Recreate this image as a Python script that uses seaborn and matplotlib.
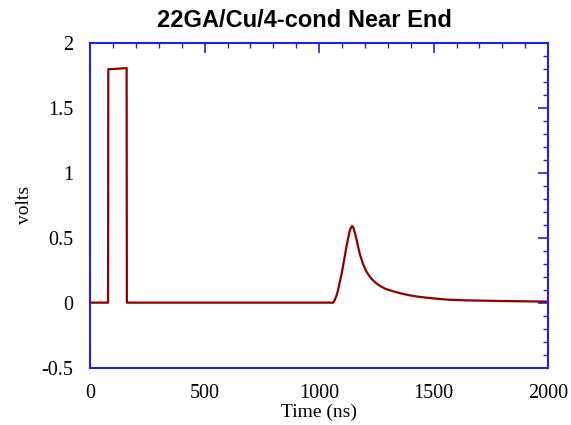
import numpy as np
import pandas as pd
import seaborn as sns
import matplotlib.pyplot as plt
from matplotlib.ticker import MultipleLocator

# waveform samples
time_ns = [0, 78, 79, 120, 159, 160, 400, 800, 1061, 1068, 1076, 1083, 1090, 1098, 1105,
           1112, 1120, 1127, 1134, 1140, 1144, 1150, 1157, 1165, 1178, 1192, 1206, 1221,
           1235, 1250, 1270, 1290, 1323, 1360, 1396, 1430, 1469, 1528, 1562, 1636, 1720,
           1811, 1900, 2000]
volts = [0.0, 0.0, 1.796, 1.800, 1.805, 0.0, 0.0, 0.0, 0.0, 0.02, 0.056, 0.10, 0.16, 0.22, 0.29,
         0.36, 0.44, 0.50, 0.556, 0.58, 0.589, 0.575, 0.53, 0.47, 0.37, 0.295, 0.24, 0.2,
         0.172, 0.148, 0.124, 0.106, 0.087, 0.07, 0.056, 0.046, 0.038, 0.028, 0.023, 0.018, 0.015,
         0.012, 0.010, 0.008]

df = pd.DataFrame({'time': time_ns, 'volts': volts})

sns.set_style('white')
plt.rcParams['font.family'] = ['Liberation Serif', 'DejaVu Serif']
plt.rcParams['text.color'] = 'black'
plt.rcParams['axes.labelcolor'] = 'black'

fig = plt.figure(figsize=(5.71, 4.25), dpi=100)
ax = fig.add_axes([0.158, 0.135, 0.802, 0.7645])

sns.lineplot(data=df, x='time', y='volts', ax=ax, color='#8b0000', linewidth=1.6)

ax.set_xlim(0, 2000)
ax.set_ylim(-0.5, 2)
ax.xaxis.set_major_locator(MultipleLocator(500))
ax.xaxis.set_minor_locator(MultipleLocator(100))
ax.yaxis.set_minor_locator(MultipleLocator(0.1))
ax.set_yticks([-0.5, 0, 0.5, 1, 1.5, 2])
ax.set_yticklabels(['-0.5', '0', '0.5', '1', '1.5', '2'])

frame_col = '#2020ee'
for sp in ax.spines.values():
    sp.set_color(frame_col)
    sp.set_linewidth(1.5)
ax.tick_params(which='both', direction='in', top=True, right=True, color=frame_col,
               labelsize=14.5, labelcolor='black')
ax.tick_params(which='major', length=7, width=1.2, pad=12)
ax.tick_params(which='minor', length=3.6, width=1.0)

ax.set_xlabel('Time (ns)', fontsize=14, labelpad=0.5)
ax.set_ylabel('volts', fontsize=14, labelpad=6)
ax.set_title('22GA/Cu/4-cond Near End', fontsize=17, fontweight='bold', color='black',
             family=['Liberation Sans', 'DejaVu Sans'], pad=11, x=0.468)

fig.savefig('out.png', dpi=100)
